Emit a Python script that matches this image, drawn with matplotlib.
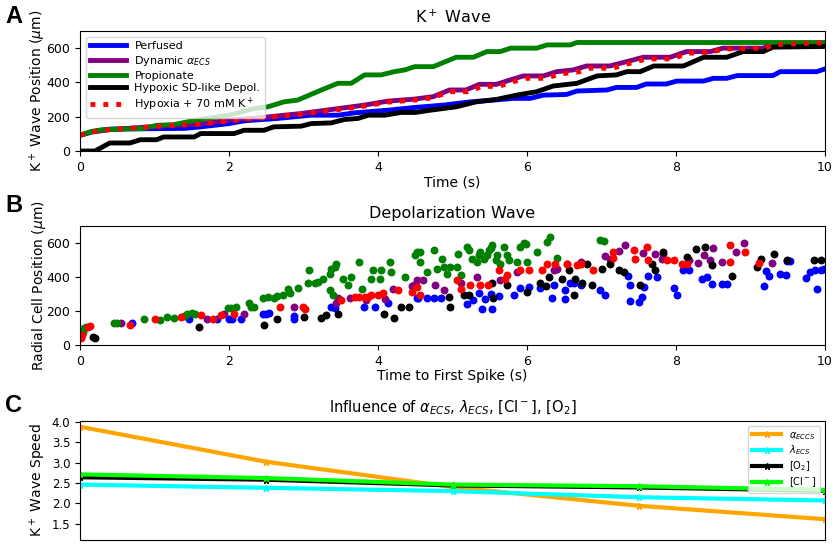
import matplotlib
matplotlib.use("Agg")
import matplotlib.pyplot as plt

# ---- panel A: K+ wave front position (time s, position um) ----
perf_t = [0, 0.16, 0.4, 1.4, 1.62, 2.0, 2.2, 2.65, 3.1, 3.46, 3.69, 4.13, 4.49, 4.88, 5.24, 5.55,
          5.82, 6.04, 6.22, 6.53, 6.67, 7.07, 7.2, 7.47, 7.6, 7.87, 8.01, 8.37, 8.5, 8.68, 8.82,
          9.3, 9.4, 9.89, 10]
perf_v = [92, 112, 128, 132, 141, 160, 176, 190, 209, 209, 223, 238, 254, 268, 287, 297,
          307, 307, 326, 330, 350, 356, 371, 371, 391, 391, 408, 408, 424, 424, 440,
          440, 463, 463, 479]

dyn_t = [0, 0.16, 0.4, 0.94, 1.26, 1.6, 2.0, 2.43, 2.97, 3.37, 3.82, 4.13, 4.49, 4.74, 4.96,
         5.18, 5.36, 5.59, 5.77, 5.95, 6.22, 6.4, 6.62, 6.8, 7.11, 7.38, 7.56, 7.92, 8.14,
         8.46, 8.63, 9.17, 9.26, 10]
dyn_v = [92, 111, 125, 141, 150, 158, 180, 195, 219, 242, 268, 291, 303, 317, 356,
         356, 389, 389, 414, 438, 438, 463, 473, 496, 496, 526, 547, 547, 580,
         580, 600, 600, 619, 629]

prop_t = [0, 0.16, 0.31, 0.85, 1.03, 1.26, 1.44, 1.71, 2.0, 2.34, 2.52, 2.74, 2.92, 3.24, 3.46,
          3.64, 3.82, 4.04, 4.22, 4.36, 4.49, 4.74, 5.05, 5.28, 5.46, 5.64, 5.78, 6.13, 6.27,
          6.58, 6.67, 10]
prop_v = [92, 115, 125, 131, 150, 154, 170, 190, 209, 248, 258, 287, 297, 356, 395,
          395, 444, 444, 463, 473, 492, 492, 547, 547, 580, 580, 600, 600, 619,
          619, 633, 633]

hyp_t = [0, 0.2, 0.4, 0.67, 0.81, 1.03, 1.12, 1.53, 1.62, 2.07, 2.2, 2.47, 2.6, 2.97, 3.1, 3.37,
         3.55, 3.73, 3.87, 4.09, 4.31, 4.5, 4.7, 5.05, 5.32, 5.59, 5.86, 6.13, 6.35, 6.67,
         6.94, 7.2, 7.34, 7.52, 7.7, 8.1, 8.37, 8.68, 8.9, 9.17, 9.3, 10]
hyp_v = [0, 0, 47, 47, 66, 66, 82, 82, 102, 102, 121, 121, 141, 145, 160, 164,
         184, 190, 209, 209, 225, 225, 238, 258, 287, 301, 326, 346, 379, 395,
         438, 444, 463, 463, 496, 496, 547, 547, 580, 580, 606, 610]

k70_t = [0, 0.16, 0.4, 0.94, 1.26, 1.6, 2.0, 2.43, 2.97, 3.37, 3.82, 4.13, 4.49, 4.74, 4.96,
         5.2, 5.4, 5.62, 5.8, 6.0, 6.25, 6.45, 6.7, 6.85, 7.15, 7.4, 7.6, 7.95, 8.15,
         8.45, 8.65, 9.2, 9.3, 10]
k70_v = [92, 111, 125, 141, 150, 156, 176, 192, 214, 236, 262, 285, 297, 311, 346,
         346, 377, 377, 403, 424, 424, 450, 462, 483, 483, 514, 537, 537, 570,
         575, 595, 600, 620, 632]

# ---- panel B: time to first spike (s) vs radial cell position (um) ----
b_perf_t = [0.7, 1.46, 1.84, 2.0, 2.04, 2.16, 2.45, 2.49, 2.54, 2.87, 2.87, 3.37, 3.42, 3.81, 3.96,
            4.13, 4.54, 4.52, 4.66, 4.75, 4.84, 5.19, 5.28, 5.35, 5.44, 5.4, 5.53, 5.51, 5.62,
            5.82, 5.91, 6.02, 6.18, 6.34, 6.36, 6.51, 6.51, 6.58, 6.63, 6.72, 6.98, 7.05, 7.36,
            7.38, 7.38, 7.5, 7.54, 7.57, 7.63, 7.74, 7.97, 8.01, 8.1, 8.17, 8.35, 8.42, 8.48,
            8.62, 8.68, 9.18, 9.21, 9.25, 9.4, 9.47, 9.49, 9.53, 9.74, 9.8, 9.87, 9.89, 9.94, 9.98]
b_perf_v = [131, 150, 150, 154, 154, 154, 182, 182, 190, 170, 154, 221, 215, 225, 221,
            248, 279, 279, 279, 279, 274, 244, 264, 307, 268, 209, 209, 299, 287,
            293, 338, 342, 338, 279, 352, 322, 268, 362, 366, 352, 322, 293, 405,
            352, 260, 254, 283, 342, 405, 401, 338, 293, 444, 444, 391, 401, 358,
            358, 358, 346, 436, 405, 416, 410, 494, 494, 397, 430, 444, 332, 444, 449]

b_dyn_t = [0.55, 1.71, 1.93, 2.2, 2.87, 3.44, 3.46, 3.62, 3.84, 4.09, 4.2, 4.45, 4.52, 4.48, 4.61,
           4.77, 4.88, 5.11, 5.33, 5.64, 5.87, 6.36, 6.4, 6.54, 6.72, 7.05, 7.12, 7.23, 7.32,
           7.56, 7.72, 7.83, 7.81, 8.17, 8.3, 8.37, 8.46, 8.5, 8.62, 8.8, 8.91, 9.29]
b_dyn_v = [131, 154, 182, 182, 225, 248, 277, 279, 264, 268, 332, 346, 381, 352, 381,
           352, 322, 362, 401, 381, 430, 440, 449, 479, 489, 522, 508, 553, 586,
           541, 537, 537, 508, 502, 483, 528, 502, 573, 489, 547, 600, 483]

b_prop_t = [0.04, 0.05, 0.08, 0.45, 0.49, 0.86, 1.07, 1.17, 1.26, 1.39, 1.44, 1.5, 1.55, 1.98,
            2.02, 2.09, 2.27, 2.29, 2.34, 2.45, 2.52, 2.61, 2.65, 2.72, 2.79, 2.82, 2.92, 3.06,
            3.08, 3.15, 3.19, 3.26, 3.35, 3.37, 3.42, 3.44, 3.35, 3.39, 3.53, 3.6, 3.64, 3.75,
            3.78, 3.93, 3.91, 4.02, 4.04, 4.16, 4.18, 4.36, 4.49, 4.52, 4.57, 4.57, 4.66, 4.75,
            4.79, 4.86, 4.88, 4.93, 4.97, 5.06, 5.08, 5.11, 5.19, 5.22, 5.26, 5.33, 5.35, 5.37,
            5.42, 5.46, 5.49, 5.51, 5.53, 5.58, 5.6, 5.64, 5.69, 5.73, 5.76, 5.87, 5.91, 5.96,
            5.98, 6.0, 6.13, 6.27, 6.31, 6.4, 6.98, 7.03]
b_prop_v = [78, 98, 107, 131, 131, 150, 146, 162, 156, 172, 182, 186, 182, 219,
            215, 225, 250, 225, 225, 277, 283, 277, 289, 293, 332, 303, 338, 362,
            440, 362, 371, 391, 420, 449, 459, 479, 322, 293, 391, 352, 401, 489,
            332, 440, 391, 391, 440, 489, 430, 401, 528, 547, 489, 547, 430, 557,
            450, 508, 459, 420, 459, 459, 537, 410, 577, 557, 508, 489, 528, 547,
            508, 528, 557, 573, 586, 498, 528, 479, 577, 528, 498, 489, 577, 600,
            592, 489, 547, 606, 635, 514, 620, 612]

b_hyp_t = [0.18, 0.2, 1.6, 2.47, 2.64, 3.01, 3.24, 3.3, 3.46, 4.08, 4.22, 4.31, 4.41, 4.95, 4.97,
           5.15, 5.22, 5.55, 5.53, 5.73, 6.0, 6.18, 6.25, 6.29, 6.47, 6.56, 6.63, 6.65, 6.74,
           6.8, 6.87, 7.01, 7.12, 7.23, 7.3, 7.52, 7.68, 7.72, 7.83, 8.15, 8.27, 8.39, 8.48,
           8.75, 9.09, 9.14, 9.32, 9.49, 9.85, 9.95]
b_hyp_v = [49, 43, 107, 117, 150, 166, 156, 176, 180, 180, 156, 225, 225, 283, 225,
           293, 293, 274, 362, 352, 313, 366, 346, 401, 391, 440, 293, 391, 362,
           479, 352, 449, 479, 444, 430, 352, 475, 440, 547, 518, 563, 577, 469,
           405, 459, 508, 537, 498, 502, 502]

b_k70_t = [0.01, 0.02, 0.11, 0.13, 0.67, 1.01, 1.35, 1.62, 1.78, 1.89, 2.07, 2.68, 2.99, 3.02,
           3.5, 3.69, 3.75, 3.82, 3.87, 3.91, 4.0, 4.07, 4.27, 4.45, 4.52, 4.57, 5.06, 5.11,
           5.24, 5.37, 5.48, 5.62, 5.71, 5.73, 5.91, 6.02, 6.2, 6.27, 6.38, 6.54, 6.67, 6.72,
           6.89, 7.16, 7.16, 7.43, 7.45, 7.61, 7.63, 7.88, 7.97, 8.08, 8.15, 8.73, 8.73, 8.93,
           9.11]
b_k70_v = [39, 59, 107, 111, 117, 150, 166, 176, 154, 178, 182, 221, 221, 209,
           264, 283, 283, 283, 285, 293, 293, 307, 322, 313, 342, 293, 385, 332,
           352, 352, 352, 440, 391, 410, 440, 440, 444, 479, 479, 475, 469, 475,
           444, 514, 547, 561, 508, 577, 498, 498, 498, 475, 475, 586, 489, 547,
           483]

# ---- panel C: K+ wave speed for parameter sweeps ----
c_x = [0, 1, 2, 3, 4]
c_alpha = [3.88, 3.02, 2.40, 1.94, 1.61]
c_lambda = [2.46, 2.38, 2.30, 2.15, 2.07]
c_o2 = [2.64, 2.58, 2.44, 2.39, 2.31]
c_cl = [2.71, 2.62, 2.46, 2.42, 2.33]

fig = plt.figure(figsize=(8.37, 5.47), dpi=100)
axA = fig.add_axes([0.0956, 0.7239, 0.8901, 0.2194])
axB = fig.add_axes([0.0956, 0.3693, 0.8901, 0.2175])
axC = fig.add_axes([0.0956, 0.0128, 0.8901, 0.2175])

lw = 3.5
axA.plot(perf_t, perf_v, color="blue", lw=lw, label="Perfused")
axA.plot(dyn_t, dyn_v, color="purple", lw=lw, label=r"Dynamic $\alpha_{ECS}$")
axA.plot(prop_t, prop_v, color="green", lw=lw, label="Propionate")
axA.plot(hyp_t, hyp_v, color="black", lw=lw, label="Hypoxic SD-like Depol.")
axA.plot(k70_t, k70_v, color="red", lw=lw, ls=":", label=r"Hypoxia + 70 mM K$^+$")
axA.set_xlim(0, 10)
axA.set_ylim(0, 700)
axA.set_yticks([0, 200, 400, 600])
axA.set_title(r"K$^+$ Wave", fontsize=11.5)
axA.set_xlabel("Time (s)", fontsize=10)
axA.set_ylabel(r"K$^+$ Wave Position ($\mu$m)", fontsize=10)
axA.legend(loc="upper left", fontsize=8, handlelength=3.2, borderpad=0.4, labelspacing=0.25)

ms = 22
axB.scatter(b_perf_t, b_perf_v, s=ms, color="blue")
axB.scatter(b_dyn_t, b_dyn_v, s=ms, color="purple")
axB.scatter(b_prop_t, b_prop_v, s=ms, color="green")
axB.scatter(b_hyp_t, b_hyp_v, s=ms, color="black")
axB.scatter(b_k70_t, b_k70_v, s=ms, color="red")
axB.set_xlim(0, 10)
axB.set_ylim(0, 700)
axB.set_yticks([0, 200, 400, 600])
axB.set_title("Depolarization Wave", fontsize=11.5)
axB.set_xlabel("Time to First Spike (s)", fontsize=10)
axB.set_ylabel(r"Radial Cell Position ($\mu$m)", fontsize=10)

axC.plot(c_x, c_alpha, color="orange", lw=3, marker="*", ms=5, label=r"$\alpha_{ECCS}$")
axC.plot(c_x, c_lambda, color="cyan", lw=3, marker="*", ms=5, label=r"$\lambda_{ECS}$")
axC.plot(c_x, c_o2, color="black", lw=3, marker="*", ms=5, label=r"[O$_2$]")
axC.plot(c_x, c_cl, color="lime", lw=3, marker="*", ms=5, label=r"[Cl$^-$]")
axC.set_xlim(0, 4)
axC.set_ylim(1.1, 4.02)
axC.set_xticks([])
axC.set_yticks([1.5, 2.0, 2.5, 3.0, 3.5, 4.0])
axC.set_title(r"Influence of $\alpha_{ECS}$, $\lambda_{ECS}$, [Cl$^-$], [O$_2$]", fontsize=10.5)
axC.set_ylabel(r"K$^+$ Wave Speed", fontsize=10)
axC.legend(loc="upper right", fontsize=7, handlelength=3, labelspacing=0.2)

for ax in (axA, axB):
    ax.tick_params(labelsize=9)
    ax.xaxis.set_label_coords(0.5, -0.2)
axC.tick_params(labelsize=8.5)

for ax in (axA, axB, axC):
    ax.yaxis.set_label_coords(-0.043, 0.5)

for letter, y in (("A", 0.99), ("B", 0.645), ("C", 0.28)):
    fig.text(0.006, y, letter, fontsize=17, fontweight="bold", family="Liberation Sans",
             va="top", ha="left")

fig.savefig("out.png", dpi=100)
